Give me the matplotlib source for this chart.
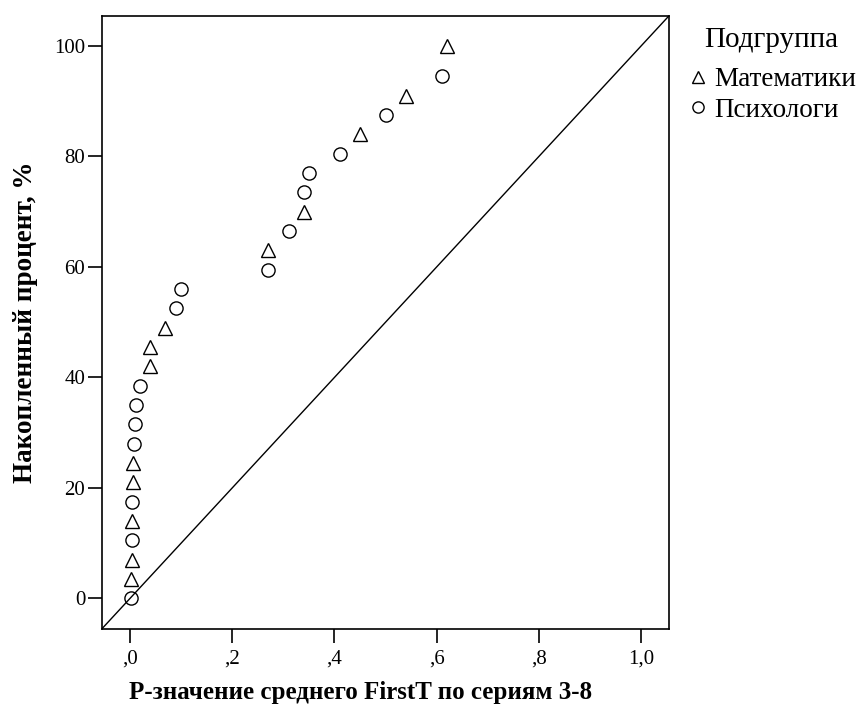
import matplotlib
matplotlib.use('Agg')
import matplotlib.pyplot as plt

plt.rcParams['font.family'] = ['Liberation Serif', 'DejaVu Serif']

# Математики
math_p = [0.002, 0.003, 0.003, 0.005, 0.005, 0.038, 0.039, 0.069, 0.27, 0.34, 0.45, 0.54, 0.62]
math_pct = [3.5, 7.0, 14.0, 21.0, 24.5, 42.0, 45.5, 49.0, 63.0, 70.0, 84.0, 91.0, 100.0]

# Психологи
psy_p = [0.001, 0.004, 0.0045, 0.008, 0.010, 0.012, 0.019, 0.089, 0.099,
         0.27, 0.31, 0.34, 0.35, 0.41, 0.50, 0.61]
psy_pct = [0.0, 10.5, 17.5, 28.0, 31.5, 35.0, 38.5, 52.5, 56.0,
           59.5, 66.5, 73.5, 77.0, 80.5, 87.5, 94.5]

xticks = [0.0, 0.2, 0.4, 0.6, 0.8, 1.0]
xticklabels = [',0', ',2', ',4', ',6', ',8', '1,0']
yticks = [0, 20, 40, 60, 80, 100]

fig = plt.figure(figsize=(8.58, 7.11), dpi=100)
ax = fig.add_axes([0.1189, 0.1158, 0.661, 0.8622])

# reference line y = 100x
ax.plot([-0.055, 1.055], [-5.5, 105.5], color='black', lw=1.0, zorder=1)

ax.plot(math_p, math_pct, linestyle='none', marker='^', markersize=10,
        markerfacecolor='none', markeredgecolor='black', markeredgewidth=1.0,
        label='Математики', zorder=3)
ax.plot(psy_p, psy_pct, linestyle='none', marker='o', markersize=9.5,
        markerfacecolor='none', markeredgecolor='black', markeredgewidth=1.0,
        label='Психологи', zorder=3)

ax.set_xlim(-0.055, 1.055)
ax.set_ylim(-5.5, 105.5)
ax.set_xticks(xticks)
ax.set_xticklabels(xticklabels)
ax.set_yticks(yticks)
ax.tick_params(direction='out', length=10, width=1.2, labelsize=15)
ax.tick_params(axis='y', pad=2)
ax.tick_params(axis='x', pad=5)

for s in ax.spines.values():
    s.set_linewidth(1.2)

ax.set_xlabel('P-значение среднего FirstT по сериям 3-8', fontsize=18,
              fontweight='bold', labelpad=7)
ax.xaxis.set_label_coords(0.455, -0.085)
ax.set_ylabel('Накопленный процент, %', fontsize=19.5, fontweight='bold', labelpad=12)

# legend title drawn separately, entries via ax.legend
fig.text(771 / 858, 1 - 40 / 711, 'Подгруппа', fontsize=21, ha='center', va='center')
leg = ax.legend(loc='upper left', bbox_to_anchor=(1.0247, 0.9245),
                frameon=False, fontsize=19.5,
                handletextpad=0.25, handlelength=0.7, markerscale=0.85,
                borderaxespad=0.0, borderpad=0.2, labelspacing=0.2)

fig.savefig('out.png', dpi=100)
